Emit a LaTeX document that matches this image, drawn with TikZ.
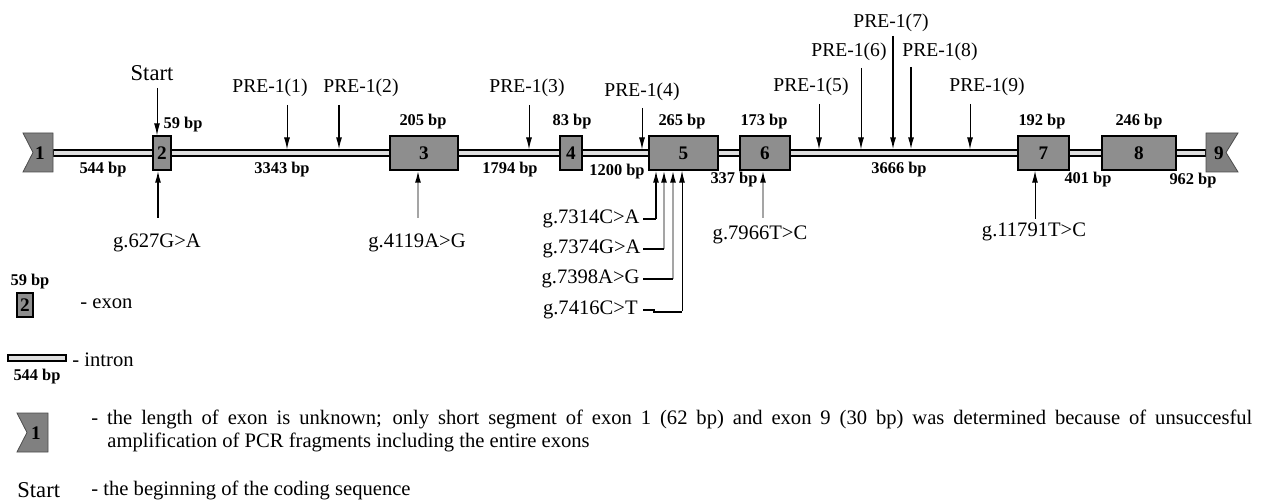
\documentclass[tikz,border=0pt]{standalone}
\usepackage{fontspec}
\setmainfont{Liberation Serif}
\usetikzlibrary{arrows.meta}
\definecolor{exongray}{RGB}{142,142,142}
\definecolor{flaggray}{RGB}{128,128,128}
\definecolor{introngray}{RGB}{222,222,222}
\definecolor{shaftgray}{RGB}{165,165,165}
\begin{document}
\begin{tikzpicture}[x=0.5pt,y=-0.5pt,
  pre/.style={font=\fontsize{9.8}{11}\selectfont, inner sep=0pt},
  bp/.style={font=\bfseries\fontsize{8.2}{10}\selectfont, inner sep=0pt},
  mut/.style={font=\fontsize{10.3}{12}\selectfont, inner sep=0pt},
  leg/.style={font=\fontsize{10.3}{12}\selectfont, inner sep=0pt, anchor=west},
  exnum/.style={font=\bfseries\fontsize{9.6}{11}\selectfont, inner sep=0pt},
  exon/.style={draw, line width=0.7pt, fill=exongray, inner sep=0pt, minimum height=17pt, font=\bfseries\fontsize{9.6}{11}\selectfont},
  flag/.style={draw=black!70, line width=0.4pt, fill=flaggray},
  intronst/.style={draw, line width=0.6pt, fill=introngray, inner sep=0pt, minimum height=3pt},
  arr/.style={line width=0.5pt, -{Latex[length=6pt,width=3pt]}},
  garr/.style={draw=shaftgray, line width=0.8pt, -{Latex[length=6pt,width=3pt,color=black]}},
  hline/.style={line width=0.6pt}
]
\useasboundingbox (0,0) rectangle (1268,502);

% intron backbone
\node[intronst, minimum width=576.5pt] (intr) at (629.5,153) {};

% exons
\draw[flag] (23,133) -- (53,133) -- (53,172) -- (23,172) -- (33,152.5) -- cycle;
\node[exnum] (e1) at (40,153) {1};
\node[exon, minimum width=9pt] (e2) at (162,153) {2};
\node[exon, minimum width=34pt] (e3) at (424,153) {3};
\node[exon, minimum width=11pt] (e4) at (571,153) {4};
\node[exon, minimum width=34.5pt] (e5) at (683.5,153) {5};
\node[exon, minimum width=25pt] (e6) at (765,153) {6};
\node[exon, minimum width=25.5pt] (e7) at (1043.5,153) {7};
\node[exon, minimum width=37pt] (e8) at (1139,153) {8};
\draw[flag] (1206,133) -- (1238,133) -- (1226,152.5) -- (1238,172) -- (1206,172) -- cycle;
\node[exnum] (e9) at (1219,153) {9};

% exon sizes
\node[bp] (s2) at (183,125) {59 bp};
\node[bp] (s3) at (423,122) {205 bp};
\node[bp] (s4) at (572,122) {83 bp};
\node[bp] (s5) at (682,122) {265 bp};
\node[bp] (s6) at (764,122) {173 bp};
\node[bp] (s7) at (1042,122) {192 bp};
\node[bp] (s8) at (1139,122) {246 bp};
% intron sizes
\node[bp] (i1) at (103,170) {544 bp};
\node[bp] (i2) at (282,170) {3343 bp};
\node[bp] (i3) at (510,170) {1794 bp};
\node[bp] (i4) at (617,172) {1200 bp};
\node[bp] (i5) at (734,180) {337 bp};
\node[bp] (i6) at (899,170) {3666 bp};
\node[bp] (i7) at (1088,180) {401 bp};
\node[bp] (i8) at (1193,181) {962 bp};

% top labels and arrows
\node[font=\fontsize{11.3}{13}\selectfont, inner sep=0pt] (start) at (152,73) {Start};
\coordinate (cs) at (157,88);
\draw[arr] (cs) -- (cs |- e2.north);

\node[pre] (p1) at (270,88) {PRE-1(1)};
\node[pre] (p2) at (361,88) {PRE-1(2)};
\node[pre] (p3) at (527,88) {PRE-1(3)};
\node[pre] (p4) at (642,92) {PRE-1(4)};
\node[pre] (p5) at (811,87) {PRE-1(5)};
\node[pre] (p6) at (849,52) {PRE-1(6)};
\node[pre] (p7) at (891,23) {PRE-1(7)};
\node[pre] (p8) at (940,52) {PRE-1(8)};
\node[pre] (p9) at (987,87) {PRE-1(9)};
\coordinate (c1) at (287,105);
\coordinate (c2) at (339,105);
\coordinate (c3) at (529,105);
\coordinate (c4) at (642,108);
\coordinate (c5) at (819,104);
\coordinate (c6) at (861,68);
\coordinate (c7) at (893,36);
\coordinate (c8) at (911,67);
\coordinate (c9) at (970,104);
\foreach \c in {c1,c3,c4,c5,c6,c9}{
  \draw[arr] (\c) -- (\c |- intr.north);
}
\foreach \c in {c2,c7,c8}{
  \draw[arr, line width=0.75pt] (\c) -- (\c |- intr.north);
}

% bottom single arrows
\coordinate (b1) at (158,218);
\draw[arr, line width=0.75pt] (b1) -- (b1 |- e2.south);
\node[mut] (g1) at (157,243) {g.627G>A};
\coordinate (b2) at (418,218);
\draw[garr] (b2) -- (b2 |- e3.south);
\node[mut] (g2) at (417,243) {g.4119A>G};
\coordinate (b3) at (763,218);
\draw[garr] (b3) -- (b3 |- e6.south);
\node[mut] (g3) at (760,235) {g.7966T>C};
\coordinate (b4) at (1035,219);
\draw[arr] (b4) -- (b4 |- e7.south);
\node[mut] (g4) at (1034,232) {g.11791T>C};

% exon 5 mutations
\coordinate (m1) at (656,219);
\coordinate (m2) at (664,249);
\coordinate (m3) at (673,279);
\coordinate (m4) at (682,312);
\draw[arr, line width=0.75pt] (m1) -- (m1 |- e5.south);
\draw[garr] (m2) -- (m2 |- e5.south);
\draw[garr] (m3) -- (m3 |- e5.south);
\draw[arr] ([yshift=0.3pt]m4) -- (m4 |- e5.south);
\node[mut, anchor=east] (k1) at (640,219) {g.7314C>A};
\node[mut, anchor=east] (k2) at (641,249) {g.7374G>A};
\node[mut, anchor=east] (k3) at (640,279) {g.7398A>G};
\node[mut, anchor=east] (k4) at (638,310) {g.7416C>T};
\draw[hline] ([xshift=1.5pt]k1.east) -- (m1);
\draw[hline] ([xshift=1pt]k2.east) -- (m2);
\draw[hline] ([xshift=1.5pt]k3.east) -- (m3);
\draw[hline] ([xshift=2.5pt]k4.east) -- ++(5.5pt,0) -- ++(0,-1pt) -- (m4);

% legend
\node[bp] (ls) at (30,282) {59 bp};
\node[exon, minimum width=8pt, minimum height=12pt] (lx) at (25,305) {2};
\node[leg] (lxt) at (80,304) {- exon};
\node[intronst, minimum width=29pt] (li) at (37,358) {};
\node[bp] (lib) at (37,377) {544 bp};
\node[leg] (lit) at (72,360) {- intron};
\draw[flag] (17,413) -- (48,413) -- (48,452) -- (17,452) -- (27,432.5) -- cycle;
\node[exnum] (lf) at (36,433) {1};
\node[leg] (lft1) at (91,419) {\makebox[580.5pt][s]{- the length of exon is unknown; only short segment of exon 1 (62 bp) and exon 9 (30 bp) was determined because of unsuccesful}};
\node[leg] (lft2) at (107,442) {amplification of PCR fragments including the entire exons};
\node[font=\fontsize{11.3}{13}\selectfont, inner sep=0pt, anchor=west] (lst) at (17,490) {Start};
\node[leg] (lstt) at (91,490) {- the beginning of the coding sequence};
\end{tikzpicture}
\end{document}
